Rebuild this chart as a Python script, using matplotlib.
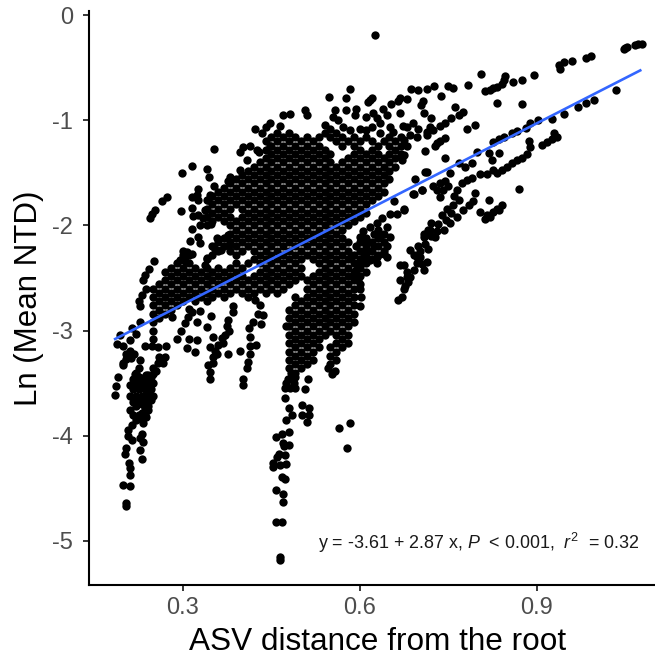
import numpy as np
import matplotlib
matplotlib.use("Agg")
import matplotlib.pyplot as plt

plt.rcParams['font.family'] = ['Liberation Sans', 'DejaVu Sans']
plt.rcParams['axes.unicode_minus'] = False
plt.rcParams['mathtext.fontset'] = 'custom'
plt.rcParams['mathtext.rm'] = 'Liberation Sans'
plt.rcParams['mathtext.it'] = 'Liberation Sans:italic'

# outer strands, (x, y)
left_arm = [(.184,-3.61),(.187,-3.53),(.19,-3.44),(.198,-3.31),(.204,-3.22),(.21,-3.19),(.217,-3.22),(.198,-3.15),
            (.188,-3.13),(.193,-3.04),(.213,-2.98),(.227,-2.92),(.221,-3.03),(.21,-3.09),(.204,-3.27),(.212,-3.26),
            (.204,-4.64),(.204,-4.67),(.198,-4.47),(.21,-4.48),(.21,-4.37),(.21,-4.31),(.209,-4.26),(.201,-4.17),
            (.204,-4.12),(.213,-4.04),(.207,-3.95),(.213,-3.9),(.21,-3.76),(.215,-3.8),(.221,-3.85),(.207,-4.0),
            (.23,-4.22),(.227,-4.14),(.232,-4.06),(.23,-3.98),(.232,-3.88),(.238,-3.82),(.241,-3.76),(.227,-4.02),
            (.227,-3.28),(.198,-3.33),(.218,-3.41),(.238,-3.42),(.249,-3.41),(.258,-3.31),(.269,-3.25),(.266,-3.31),
            (.235,-3.15),(.247,-3.15),(.258,-3.16),(.271,-3.15),(.25,-3.36),(.26,-3.25),(.245,-3.48),(.255,-3.38),
            (.227,-2.77),(.23,-2.66),(.238,-2.6),(.232,-2.52),(.235,-2.47),(.243,-2.41),(.251,-2.34),(.226,-2.72),
            (.282,-2.87),(.297,-3.0),(.29,-3.08),(.311,-3.08),(.323,-3.09),(.307,-3.17),(.32,-3.2),(.309,-2.87),
            (.311,-2.79),(.323,-2.92),(.328,-2.81),(.347,-2.86),(.341,-2.97),(.303,-2.93),(.315,-2.82),
            (.244,-1.93),(.248,-1.89),(.252,-1.85),(.264,-1.77),(.273,-1.73)]
left_blob_x = [.21,.215,.22,.225,.23,.235,.24,.245,.25,.21,.215,.22,.225,.23,.235,.24,.245,.25,.215,.22,.225,.23,.235,.24,.245,.22,.225,.23,.235,.24,.225,.23,.235,.24]
left_blob_y = [-3.52,-3.46,-3.5,-3.44,-3.5,-3.44,-3.5,-3.44,-3.5,-3.62,-3.56,-3.62,-3.56,-3.62,-3.56,-3.62,-3.56,-3.62,-3.68,-3.72,-3.66,-3.7,-3.66,-3.72,-3.66,-3.4,-3.36,-3.78,-3.74,-3.6,-3.8,-3.84,-3.78,-3.42]
low_strands = [(.345,-3.46),(.345,-3.39),(.343,-3.33),(.351,-3.31),(.351,-3.25),(.354,-3.19),(.345,-3.16),(.36,-3.14),
               (.351,-3.06),(.368,-3.12),(.357,-3.22),(.376,-3.22),(.371,-3.04),(.374,-2.96),(.376,-2.9),(.385,-2.82),
               (.385,-2.77),(.401,-3.52),(.402,-3.46),(.408,-3.36),(.41,-3.3),(.413,-3.22),(.396,-3.19),(.413,-3.15),
               (.423,-3.14),(.413,-3.06),(.412,-2.98),(.419,-2.92),(.433,-2.94),(.422,-2.71),(.43,-2.76),(.427,-2.84),
               (.436,-2.85),(.474,-2.96),(.378,-3.0),(.366,-3.07)]
tail = [(.465,-5.15),(.465,-5.18),(.458,-4.82),(.468,-4.82),(.469,-4.63),(.47,-4.55),(.458,-4.52),(.468,-4.39),(.473,-4.41),
        (.452,-4.26),(.453,-4.3),(.462,-4.17),(.473,-4.18),(.465,-4.28),(.474,-4.27),(.47,-4.07),(.479,-4.09),(.457,-4.01),
        (.468,-3.98),(.479,-3.96),(.474,-3.85),(.485,-3.8),(.479,-3.74),(.473,-3.64),(.473,-3.55),(.49,-3.55),(.481,-3.55),
        (.51,-3.87),(.513,-3.8),(.501,-3.8),(.513,-3.74),(.501,-3.71),(.507,-3.56),(.512,-3.46),(.565,-3.93),(.583,-3.88),
        (.578,-4.12),(.478,-3.46),(.49,-3.44),(.475,-3.5),(.472,-4.1),(.46,-4.2),(.483,-3.4),(.488,-3.5),(.545,-3.36),(.552,-3.41),(.558,-3.38)]
right_arm = [(1.072,-.276),(1.078,-.27),(1.066,-.285),(1.049,-.31),(1.052,-.305),(1.047,-.317),(.991,-.387),(.983,-.403),
             (.959,-.435),(.945,-.444),(.938,-.476),(.939,-.507),(.895,-.57),(.874,-.612),(.86,-.634),(.805,-.561),(.783,-.666),
             (.846,-.58),(.844,-.62),(.84,-.65),(.832,-.68),(.82,-.707),(.812,-.72),(.826,-.69),(.832,-.834),(.875,-.84),
             (1.034,-.707),(.997,-.802),(.983,-.834),(.969,-.872),(.945,-.935),(.925,-.983),(.902,-.998),(.888,-1.03),(.882,-1.07),
             (.866,-1.1),(.857,-1.12),(.844,-1.157),(.835,-1.18),(.826,-1.21),(.799,-1.3),(.767,-1.41),(.928,-1.125),(.934,-1.163),
             (.925,-1.18),(.917,-1.21),(.908,-1.236),(.887,-1.2),(.888,-1.25),(.883,-1.32),(.874,-1.36),(.866,-1.38),(.857,-1.41),
             (.849,-1.44),(.84,-1.47),(.832,-1.505),(.826,-1.47),(.823,-1.38),(.836,-1.315),(.818,-1.315),(.816,-1.51),(.804,-1.515),
             (.869,-1.654),(.819,-1.76),(.84,-1.81),(.832,-1.84),(.826,-1.87),(.821,-1.92),(.812,-1.94),(.804,-1.87),(.815,-1.9),(.835,-1.85)]
mid_arm = [(.795,-1.69),(.792,-1.77),(.784,-1.81),(.789,-1.55),(.781,-1.57),(.773,-1.6),(.764,-1.66),(.789,-1.41),(.778,-1.44),
           (.753,-1.5),(.744,-1.58),(.736,-1.6),(.724,-1.62),(.75,-1.62),(.736,-1.73),(.767,-1.76),(.758,-1.81),(.747,-1.84),
           (.739,-1.9),(.764,-1.92),(.753,-1.98),(.743,-2.04),(.733,-1.99),(.775,-1.85),(.71,-1.49),(.693,-1.56),(.705,-1.66),
           (.689,-1.7),(.674,-1.85),(.716,-2.04),(.727,-2.11),(.708,-2.11),(.699,-2.2),(.716,-2.22),(.685,-2.23),(.702,-2.3),
           (.713,-2.35),(.696,-2.36),(.708,-2.42),(.674,-2.38),(.685,-2.49),(.676,-2.58),(.671,-2.68),(.665,-2.71),(.674,-2.6),
           (.668,-2.52),(.679,-2.49),(.691,-2.42),(.696,-2.3),(.702,-2.24),(.708,-2.08),(.719,-2.04),(.668,-2.38),(.691,-1.7),
           (.705,-1.66),(.713,-1.49),(.657,-1.77),(.674,-1.84),(.73,-1.66),(.74,-1.66),(.755,-1.88),(.745,-1.95),(.72,-2.1),
           (.71,-2.18),(.76,-1.72),(.72,-1.98),(.73,-2.05),(.692,-2.28),(.705,-2.37),(.68,-2.44),(.682,-2.54)]
upper_right = [(.583,-.70),(.576,-.79),(.62,-.79),(.614,-.83),(.668,-.79),(.68,-.80),(.687,-.70),(.699,-.71),(.713,-.70),(.725,-.67),
               (.75,-.67),(.758,-.69),(.737,-.77),(.707,-.82),(.703,-.85),(.761,-.87),(.709,-.93),(.721,-.98),(.744,-1.03),(.735,-1.05),
               (.755,-.98),(.767,-.95),(.775,-.92),(.795,-1.04),(.781,-1.08),(.577,-.9),(.594,-.89),(.591,-.95),(.611,-.97),(.622,-.93),
               (.639,-.89),(.653,-.84),(.665,-.82),(.628,-.98),(.645,-.95),(.668,-.93),(.557,-.9),(.555,-.97),(.563,-1.0),(.572,-1.06),
               (.583,-1.09),(.6,-1.08),(.611,-1.09),(.62,-1.06),(.634,-1.03),(.651,-1.06),(.673,-1.05),(.69,-1.03),(.634,-1.12),(.656,-1.11),
               (.67,-1.16),(.718,-1.06),(.713,-1.11),(.699,-1.08),(.73,-1.22),(.744,-1.17),(.71,-1.29),(.744,-1.36),(.679,-1.06),(.685,-1.14),
               (.696,-1.16),(.713,-1.14),(.727,-1.24),(.736,-1.2),(.724,-1.09),(.674,-1.19),(.68,-1.24),(.671,-1.38),(.674,-1.33),(.547,-.78),(.617,-.81)]
isolated = [(.625,-.19),(.353,-1.27),(.298,-1.50),(.316,-1.43),(.34,-1.46),(.344,-1.54),(.352,-1.62),(.296,-1.86),(.315,-2.03),
            (.326,-1.65),(.323,-1.71),(.315,-1.73),(.326,-1.76),(.315,-1.83),(.317,-1.91),(.326,-1.9),(.334,-1.93),(.329,-2.0),(.348,-1.99),
            (.343,-1.76),(.346,-1.71),(.337,-1.85),(.312,-2.15),(.326,-2.11),(.329,-2.17),(.357,-2.12),(.377,-2.09),(.354,-2.22),(.365,-2.23),
            (.378,-2.19),(.34,-2.31),(.337,-2.38),(.306,-2.25),(.315,-2.27),(.30,-2.28),(.295,-2.33),(.303,-2.34),
            (.396,-1.3),(.402,-1.25),(.413,-1.24),(.425,-1.28),(.408,-1.38),(.396,-1.47),(.38,-1.54),(.377,-1.58),
            (.47,-.95),(.482,-.935),(.507,-.90),(.51,-.95),(.422,-1.08),(.434,-1.12),(.448,-1.03),(.465,-1.05),(.44,-1.06),(.428,-1.3),(.448,-1.24)]
under_line = [(.617,-2.01),(.628,-1.98),(.637,-1.93),(.651,-1.89),(.662,-1.89),(.623,-2.08),(.645,-2.01),(.651,-2.11),(.634,-2.11),
              (.6,-2.11),(.611,-2.14),(.623,-2.2),(.645,-2.2),(.64,-2.27),(.628,-2.3),(.606,-2.3),(.594,-2.2),(.617,-2.33),(.594,-2.42),
              (.6,-2.6),(.597,-2.52),(.605,-2.05),(.61,-2.22),(.585,-2.3),(.6,-2.38),(.59,-2.48),(.645,-2.3),(.628,-2.36),(.6,-2.77),(.602,-2.68)]

# dense middle of the cloud, one list of y per x column
column_x = [.25,.26,.27,.28,.29,.30,.31,.32,.33,.34,.35,.36,.37,.38,.39,.40,.41,.42,.43,.44,.45,.46,.47,.48,.49,.50,.51,.52,.53,.54,.55,.56,.57,.58,.59,.60,.61,.62,.63,.64,.65,.66,.67]
y_025 = [-2.60,-2.68,-2.76,-2.84,-2.92,-3.00,-3.08]
y_026 = [-2.56,-2.64,-2.72,-2.80,-2.88]
y_027 = [-2.44,-2.52,-2.60,-2.68,-2.76,-2.84]
y_028 = [-2.40,-2.48,-2.56,-2.64,-2.72,-2.80]
y_029 = [-2.36,-2.44,-2.52,-2.60,-2.68,-2.76]
y_030 = [-2.24,-2.32,-2.40,-2.48,-2.56,-2.64,-2.72]
y_031 = [-2.28,-2.36,-2.44,-2.52,-2.60,-2.68]
y_032 = [-2.40,-2.48,-2.56,-2.64,-2.72]
y_033 = [-2.44,-2.52,-2.60,-2.68]
y_034 = [-1.76,-1.84,-1.92,-2.00,-2.32,-2.40,-2.48,-2.56,-2.64,-2.72]
y_035 = [-1.72,-1.80,-1.88,-1.96,-2.20,-2.28,-2.44,-2.52,-2.60,-2.68]
y_036 = [-1.68,-1.76,-1.84,-1.92,-2.16,-2.24,-2.40,-2.48,-2.56,-2.64]
y_037 = [-1.64,-1.72,-1.80,-1.88,-1.96,-2.12,-2.20,-2.44,-2.52,-2.60,-2.68]
y_038 = [-1.60,-1.68,-1.76,-1.84,-1.92,-2.00,-2.08,-2.16,-2.24,-2.40,-2.48,-2.56,-2.64]
y_039 = [-1.56,-1.64,-1.72,-1.80,-1.96,-2.04,-2.12,-2.20,-2.28,-2.36,-2.44,-2.52,-2.60]
y_040 = [-1.52,-1.60,-1.68,-1.76,-1.84,-1.92,-2.00,-2.08,-2.16,-2.24,-2.40,-2.48,-2.56,-2.64]
y_041 = [-1.48,-1.56,-1.64,-1.72,-1.80,-1.88,-1.96,-2.04,-2.12,-2.20,-2.36,-2.52,-2.60,-2.68]
y_042 = [-1.44,-1.52,-1.60,-1.68,-1.76,-1.84,-1.92,-2.00,-2.08,-2.16,-2.24,-2.32,-2.48,-2.56,-2.64]
y_043 = [-1.40,-1.48,-1.56,-1.64,-1.72,-1.80,-1.88,-1.96,-2.04,-2.12,-2.20,-2.28,-2.36,-2.44,-2.52,-2.60]
y_044 = [-1.20,-1.28,-1.36,-1.44,-1.52,-1.60,-1.68,-1.76,-1.84,-1.92,-2.00,-2.08,-2.16,-2.24,-2.32,-2.40,-2.48,-2.56,-2.64]
y_045 = [-1.16,-1.24,-1.32,-1.40,-1.48,-1.56,-1.64,-1.72,-1.80,-1.88,-1.96,-2.04,-2.12,-2.20,-2.28,-2.36,-2.44,-2.52,-2.60]
y_046 = [-1.12,-1.20,-1.28,-1.36,-1.44,-1.52,-1.60,-1.68,-1.76,-1.84,-1.92,-2.00,-2.08,-2.16,-2.24,-2.32,-2.40,-2.48,-2.56,-2.64]
y_047 = [-1.16,-1.24,-1.32,-1.40,-1.48,-1.56,-1.64,-1.72,-1.80,-1.88,-1.96,-2.04,-2.12,-2.20,-2.28,-2.36,-2.44,-2.52,-2.60]
y_048 = [-1.12,-1.20,-1.28,-1.36,-1.44,-1.52,-1.60,-1.68,-1.76,-1.84,-1.92,-2.00,-2.08,-2.16,-2.24,-2.32,-2.40,-2.48,-2.56,-2.80,-2.88,-2.96,-3.04,-3.12,-3.20,-3.28,-3.36]
y_049 = [-1.16,-1.24,-1.32,-1.40,-1.48,-1.56,-1.64,-1.72,-1.80,-1.88,-1.96,-2.04,-2.12,-2.20,-2.28,-2.36,-2.44,-2.52,-2.68,-2.76,-2.84,-2.92,-3.00,-3.08,-3.16,-3.24,-3.32,-3.40]
y_050 = [-1.20,-1.28,-1.36,-1.44,-1.52,-1.60,-1.68,-1.76,-1.84,-1.92,-2.00,-2.08,-2.16,-2.24,-2.32,-2.40,-2.48,-2.72,-2.80,-2.88,-2.96,-3.04,-3.12,-3.20,-3.28,-3.36]
y_051 = [-1.16,-1.24,-1.32,-1.40,-1.48,-1.56,-1.64,-1.72,-1.80,-1.88,-1.96,-2.04,-2.12,-2.20,-2.28,-2.52,-2.60,-2.68,-2.76,-2.84,-2.92,-3.00,-3.08,-3.16,-3.24,-3.32]
y_052 = [-1.20,-1.28,-1.36,-1.44,-1.52,-1.60,-1.68,-1.76,-1.84,-1.92,-2.00,-2.08,-2.16,-2.24,-2.32,-2.48,-2.56,-2.64,-2.72,-2.80,-2.88,-2.96,-3.04,-3.12,-3.20,-3.28]
y_053 = [-1.16,-1.24,-1.32,-1.40,-1.48,-1.56,-1.64,-1.72,-1.80,-1.88,-1.96,-2.04,-2.12,-2.20,-2.28,-2.36,-2.44,-2.52,-2.60,-2.68,-2.76,-2.84,-2.92,-3.00,-3.08,-3.16]
y_054 = [-1.04,-1.12,-1.28,-1.36,-1.44,-1.52,-1.60,-1.68,-1.76,-1.84,-1.92,-2.00,-2.08,-2.16,-2.24,-2.32,-2.40,-2.48,-2.56,-2.64,-2.72,-2.80,-2.88,-2.96,-3.04]
y_055 = [-1.08,-1.16,-1.32,-1.40,-1.48,-1.56,-1.64,-1.72,-1.80,-1.88,-1.96,-2.04,-2.12,-2.20,-2.28,-2.36,-2.44,-2.52,-2.60,-2.68,-2.76,-2.84,-2.92,-3.00,-3.16,-3.24,-3.32]
y_056 = [-1.12,-1.20,-1.44,-1.52,-1.60,-1.68,-1.76,-1.84,-1.92,-2.00,-2.08,-2.16,-2.24,-2.32,-2.40,-2.48,-2.56,-2.64,-2.72,-2.80,-2.88,-2.96,-3.04,-3.12,-3.20,-3.28]
y_057 = [-1.16,-1.24,-1.40,-1.48,-1.56,-1.64,-1.72,-1.80,-1.88,-1.96,-2.04,-2.12,-2.20,-2.28,-2.36,-2.44,-2.52,-2.60,-2.68,-2.76,-2.84,-2.92,-3.00,-3.08,-3.16]
y_058 = [-1.20,-1.36,-1.44,-1.52,-1.60,-1.68,-1.76,-1.84,-1.92,-2.00,-2.16,-2.24,-2.32,-2.40,-2.48,-2.56,-2.64,-2.72,-2.80,-2.88,-2.96,-3.04,-3.12]
y_059 = [-1.16,-1.24,-1.32,-1.40,-1.48,-1.56,-1.64,-1.72,-1.80,-1.88,-1.96,-2.28,-2.36,-2.44,-2.52,-2.60,-2.68,-2.76,-2.84,-2.92]
y_060 = [-1.20,-1.28,-1.36,-1.44,-1.52,-1.60,-1.68,-1.76,-1.84,-1.92,-2.16,-2.24,-2.32,-2.40,-2.48,-2.56]
y_061 = [-1.16,-1.32,-1.40,-1.48,-1.56,-1.64,-1.72,-1.80,-1.88,-2.12,-2.20,-2.28,-2.36,-2.44]
y_062 = [-1.20,-1.28,-1.36,-1.44,-1.52,-1.60,-1.68,-1.76,-2.16,-2.24,-2.32]
y_063 = [-1.24,-1.32,-1.40,-1.48,-1.56,-1.64,-1.72,-2.04,-2.12,-2.20,-2.28]
y_064 = [-1.20,-1.36,-1.44,-1.52,-1.60,-1.68,-2.08,-2.16,-2.24]
y_065 = [-1.16,-1.24,-1.32,-1.40,-1.48,-1.56]
y_066 = [-1.20,-1.28,-1.36,-1.44]
y_067 = [-1.24,-1.32]
column_y = [y_025,y_026,y_027,y_028,y_029,y_030,y_031,y_032,y_033,y_034,y_035,y_036,y_037,y_038,y_039,y_040,y_041,y_042,y_043,y_044,y_045,y_046,y_047,y_048,y_049,y_050,y_051,y_052,y_053,y_054,y_055,y_056,y_057,y_058,y_059,y_060,y_061,y_062,y_063,y_064,y_065,y_066,y_067]

# regression line
line_x = [0.185, 1.075]
line_y = [-3.08, -0.525]

xticks = [0.3, 0.6, 0.9]
yticks = [0, -1, -2, -3, -4, -5]
xticklabels = ['0.3', '0.6', '0.9']
yticklabels = ['0', '-1', '-2', '-3', '-4', '-5']

pairs = np.array(left_arm + low_strands + tail + right_arm + mid_arm + upper_right + isolated + under_line)
col_xs = np.concatenate([np.full(len(ys), x) for x, ys in zip(column_x, column_y)])
col_ys = np.concatenate(column_y)
all_x = np.concatenate([pairs[:, 0], left_blob_x, col_xs])
all_y = np.concatenate([pairs[:, 1], left_blob_y, col_ys])

fig = plt.figure(figsize=(6.55, 6.64), dpi=100)
ax = fig.add_axes([89/655, 79/664, 566/655, 574/664])
ax.scatter(all_x, all_y, s=36, c='black', linewidths=0, zorder=2)
ax.plot(line_x, line_y, color='#3366FF', lw=1.9, zorder=3)

ax.set_xlim(0.1407, 1.1)
ax.set_ylim(-5.42, 0.04)
ax.set_xticks(xticks)
ax.set_xticklabels(xticklabels)
ax.set_yticks(yticks)
ax.set_yticklabels(yticklabels)
ax.tick_params(axis='x', labelsize=17, labelcolor='#4D4D4D', color='black', width=1.1, length=4.5, pad=4)
ax.tick_params(axis='y', labelsize=17, labelcolor='#4D4D4D', color='black', width=1.1, length=4.5, pad=7)
ax.spines['top'].set_visible(False)
ax.spines['right'].set_visible(False)
ax.spines['left'].set_linewidth(1.5)
ax.spines['bottom'].set_linewidth(1.5)
ax.set_xlabel('ASV distance from the root', fontsize=22.7, labelpad=6, x=0.51)
ax.set_ylabel('Ln (Mean NTD)', fontsize=22.5, labelpad=6)

ax.text(0.529, -5.02, r'y = -3.61 + 2.87 x, $\mathit{P}$  < 0.001,  $\mathit{r}^{2}$  = 0.32', fontsize=12.9, color='#1a1a1a', va='center', ha='left')

fig.savefig('out.png', dpi=100)
